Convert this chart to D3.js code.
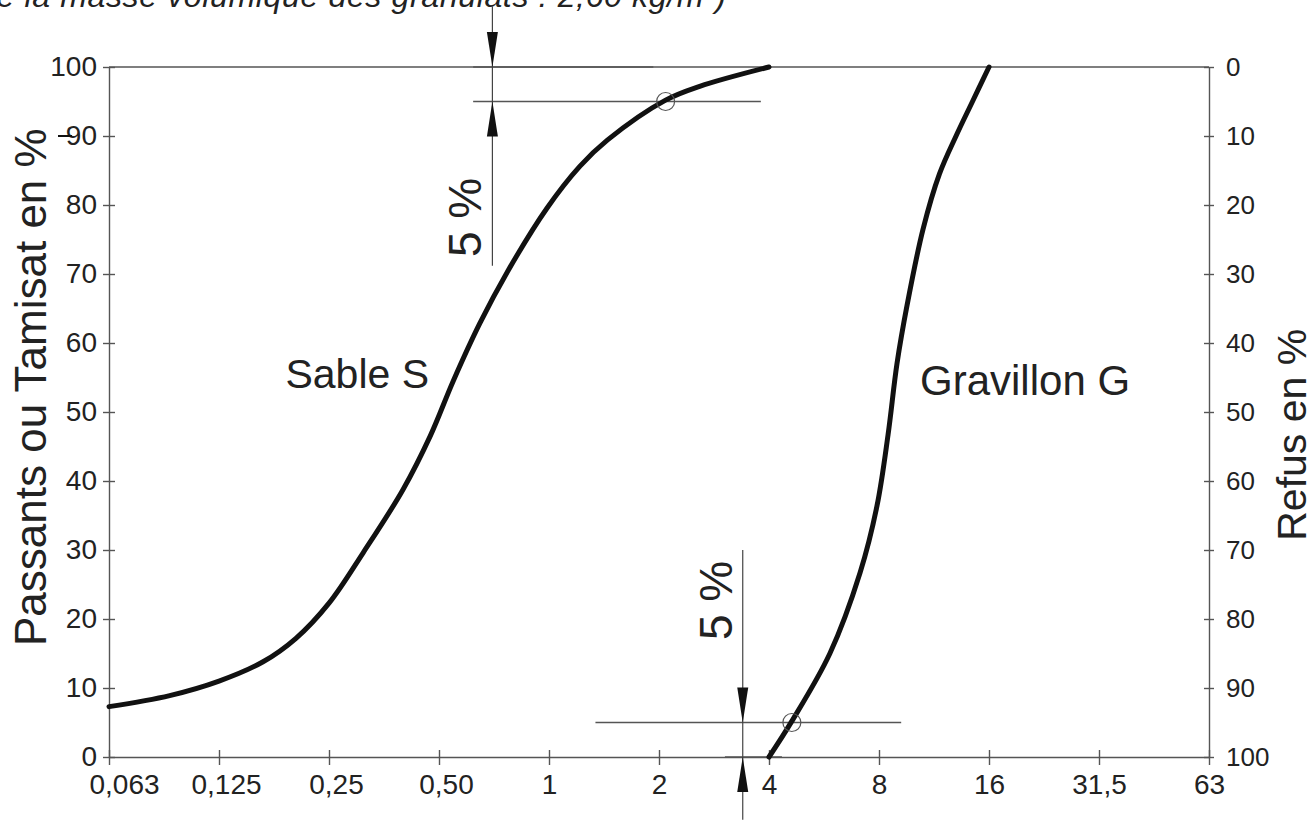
<!DOCTYPE html>
<html>
<head>
<meta charset="utf-8">
<script src="https://cdn.jsdelivr.net/npm/d3@7"></script>
<style>
  body { margin: 0; background: #fff; }
  svg { display: block; font-family: "Liberation Sans", Arial, sans-serif; }
</style>
</head>
<body>
<div id="chart"></div>
<script>
const W = 1314, H = 821;
const margin = {top: 67, right: 105, bottom: 64, left: 109};

// sieve sizes (mm) and their printed labels
const sizeTicks = [0.0625, 0.125, 0.25, 0.5, 1, 2, 4, 8, 16, 32, 64];
const sizeLabels = ["0,063", "0,125", "0,25", "0,50", "1", "2", "4", "8", "16", "31,5", "63"];
const pctTicks = [0, 10, 20, 30, 40, 50, 60, 70, 80, 90, 100];

// Sable S : passing % vs sieve (mm)
const sableSize = [0.0625, 0.0916, 0.125, 0.165, 0.203, 0.25, 0.31, 0.398, 0.473, 0.547, 0.646, 0.769, 0.986, 1.214, 1.444, 2.085, 2.585, 4.0];
const sablePass = [7.3, 8.9, 11.0, 13.8, 17.2, 22.3, 29.6, 38.7, 46.5, 54.5, 62.8, 70.3, 79.5, 85.6, 89.4, 95.2, 97.2, 100];

// Gravillon G
const gravSize = [4.0, 4.62, 5.87, 7.1, 7.9, 8.47, 8.96, 9.55, 10.56, 11.71, 13.0, 14.42, 16];
const gravPass = [0, 5.2, 15, 26.7, 36.4, 46.7, 57, 65.5, 76.5, 84.5, 90, 95, 100];

// 5 % construction marks
const markSize = [2.085, 4.62];
const markPass = [95, 5];
const dimSize = [0.70, 3.39];          // vertical dimension lines
const dimFrom = [108.8, 30];
const dimTo = [71.2, -9.1];
const extSize1 = [0.62, 0.62, 1.34, 3.03];   // horizontal extension lines
const extSize2 = [1.93, 3.8, 9.2, 4.34];
const extPass = [100, 95, 5, 0];

const width = W - margin.left - margin.right,
      height = H - margin.top - margin.bottom;

const svg = d3.select("#chart").append("svg")
  .attr("width", W).attr("height", H);

// caption, cut by the top edge as in the scan
svg.append("text")
  .attr("x", -22).attr("y", 7)
  .attr("textLength", 748)
  .style("font-style", "italic")
  .style("font-size", "32px")
  .attr("fill", "#222")
  .text("de la masse volumique des granulats : 2,60 kg/m³)");

const g = svg.append("g").attr("transform", `translate(${margin.left},${margin.top})`);

const x = d3.scaleLog().base(2).domain([0.0625, 64]).range([0, width]);
const y = d3.scaleLinear().domain([0, 100]).range([height, 0]);
const yR = d3.scaleLinear().domain([0, 100]).range([0, height]);

const axisColor = "#555";

// left axis
const gl = g.append("g")
  .call(d3.axisLeft(y).tickValues(pctTicks).tickSize(0).tickPadding(12));
gl.selectAll(".tick line").attr("x1", -6).attr("x2", 6);

// right axis (refus)
const gr = g.append("g").attr("transform", `translate(${width},0)`)
  .call(d3.axisRight(yR).tickValues(pctTicks).tickSize(0).tickPadding(17));
gr.selectAll(".tick line").attr("x1", -5).attr("x2", 5);

// bottom axis
const gb = g.append("g").attr("transform", `translate(0,${height})`)
  .call(d3.axisBottom(x).tickValues(sizeTicks).tickSize(0).tickPadding(17)
    .tickFormat((d, i) => sizeLabels[i]));
gb.selectAll(".tick line").attr("y1", -7).attr("y2", 8);
gb.selectAll(".tick text").attr("dx", (d, i) => i === 0 ? 15 : (i < 4 ? 7 : 0));

// top frame line
g.append("line").attr("x1", 0).attr("x2", width).attr("y1", 0).attr("y2", 0);

g.selectAll(".domain, .tick line, line").attr("stroke", axisColor).attr("stroke-width", 1.4);
g.selectAll(".tick text").attr("fill", "#222").style("font-size", "28px").style("font-family", "'Liberation Sans', Arial, sans-serif");
gr.selectAll(".tick text").style("font-size", "26px");

// stray mark next to 90
g.append("line")
  .attr("x1", -51).attr("x2", -37).attr("y1", y(90)).attr("y2", y(90))
  .attr("stroke", "#111").attr("stroke-width", 2);

// axis titles
svg.append("text")
  .attr("transform", `translate(46,${margin.top + y(53.6)}) rotate(-90)`)
  .attr("text-anchor", "middle")
  .style("font-size", "44px").attr("fill", "#222")
  .text("Passants ou Tamisat en %");

svg.append("text")
  .attr("transform", `translate(1306,${margin.top + y(46.7)}) rotate(-90)`)
  .attr("text-anchor", "middle")
  .style("font-size", "41px").attr("fill", "#222")
  .text("Refus en %");

// extension lines
g.selectAll("line.ext")
  .data(extPass)
  .join("line")
  .attr("class", "ext")
  .attr("x1", (d, i) => x(extSize1[i]))
  .attr("x2", (d, i) => x(extSize2[i]))
  .attr("y1", d => y(d)).attr("y2", d => y(d))
  .attr("stroke", "#555").attr("stroke-width", 1.4);

// dimension lines
g.selectAll("line.dim")
  .data(dimSize)
  .join("line")
  .attr("class", "dim")
  .attr("x1", d => x(d)).attr("x2", d => x(d))
  .attr("y1", (d, i) => y(dimFrom[i])).attr("y2", (d, i) => y(dimTo[i]))
  .attr("stroke", "#444").attr("stroke-width", 1.2);

// arrowheads: pointing down onto the upper line, up onto the lower line
const arrows = [
  {s: dimSize[0], p: 100, dir: 1},
  {s: dimSize[0], p: 95, dir: -1},
  {s: dimSize[1], p: 5, dir: 1},
  {s: dimSize[1], p: 0, dir: -1}
];
g.selectAll("path.arrow")
  .data(arrows)
  .join("path")
  .attr("class", "arrow")
  .attr("d", d => {
    const tx = x(d.s), ty = y(d.p), L = 35 * d.dir;
    return `M${tx},${ty} L${tx - 5.5},${ty - L} L${tx + 5.5},${ty - L} Z`;
  })
  .attr("fill", "#111");

// "5 %" labels
const dimLabels = [{s: dimSize[0], p: 78.2}, {s: dimSize[1], p: 22.7}];
g.selectAll("text.dimlab")
  .data(dimLabels)
  .join("text")
  .attr("class", "dimlab")
  .attr("transform", d => `translate(${x(d.s) - 11},${y(d.p)}) rotate(-90)`)
  .attr("text-anchor", "middle")
  .style("font-size", "46px").attr("fill", "#222")
  .text("5 %");

// curves
const line = d3.line()
  .x(d => x(d[0])).y(d => y(d[1]))
  .curve(d3.curveCatmullRom.alpha(0.5));

const sable = sableSize.map((s, i) => [s, sablePass[i]]);
const grav = gravSize.map((s, i) => [s, gravPass[i]]);

g.selectAll("path.curve")
  .data([sable, grav])
  .join("path")
  .attr("class", "curve")
  .attr("d", line)
  .attr("fill", "none")
  .attr("stroke", "#111")
  .attr("stroke-width", 5)
  .attr("stroke-linecap", "round");

// small circles at the 5 % points
g.selectAll("circle.mark")
  .data(markSize)
  .join("circle")
  .attr("class", "mark")
  .attr("cx", d => x(d))
  .attr("cy", (d, i) => y(markPass[i]))
  .attr("r", 9)
  .attr("fill", "none")
  .attr("stroke", "#555")
  .attr("stroke-width", 1.2);

// curve labels
g.append("text")
  .attr("x", x(0.19)).attr("y", y(53.5))
  .style("font-size", "41px").attr("fill", "#222")
  .text("Sable S");

g.append("text")
  .attr("x", x(10.36)).attr("y", y(52.5))
  .style("font-size", "42px").attr("fill", "#222")
  .text("Gravillon G");
</script>
</body>
</html>
